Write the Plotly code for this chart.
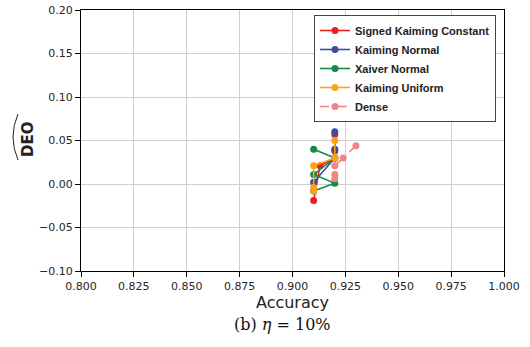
import plotly.graph_objects as go

# Data (accuracy, DEO) per initialization
skc_acc = [0.920, 0.920, 0.920, 0.913, 0.910]
skc_deo = [0.057, 0.038, 0.030, 0.021, -0.019]

kn_acc = [0.920, 0.920, 0.920, 0.910]
kn_deo = [0.060, 0.040, 0.030, 0.002]

xn_acc = [0.910, 0.920, 0.910, 0.920, 0.910]
xn_deo = [0.040, 0.030, 0.011, 0.001, -0.008]

ku_acc = [0.920, 0.920, 0.910, 0.910, 0.910]
ku_deo = [0.050, 0.030, 0.021, -0.004, -0.008]

dense_acc = [0.930, 0.924, 0.920, 0.920, 0.920]
dense_deo = [0.044, 0.030, 0.021, 0.011, 0.006]

series = [
    ("Signed Kaiming Constant", skc_acc, skc_deo, "#ee1d23", "solid"),
    ("Kaiming Normal", kn_acc, kn_deo, "#3b4d9e", "solid"),
    ("Xaiver Normal", xn_acc, xn_deo, "#178a45", "solid"),
    ("Kaiming Uniform", ku_acc, ku_deo, "#f9a41a", "solid"),
    ("Dense", dense_acc, dense_deo, "#f08585", "dash"),
]

x_ticks = [0.800, 0.825, 0.850, 0.875, 0.900, 0.925, 0.950, 0.975, 1.000]
y_ticks = [-0.10, -0.05, 0.00, 0.05, 0.10, 0.15, 0.20]

fig = go.Figure()
for name, xs, ys, color, dash in series:
    fig.add_trace(go.Scatter(
        x=xs, y=ys, name=name, mode="lines+markers",
        line=dict(color=color, width=1.6, dash=dash),
        marker=dict(color=color, size=7),
    ))

L, R, T, B = 81, 26, 10, 76
W, H = 530, 347
PW, PH = W - L - R, H - T - B


def px(x):
    return (x - L) / PW


def py(y):
    return (H - B - y) / PH


fig.update_layout(
    width=W, height=H,
    margin=dict(l=L, r=R, t=T, b=B),
    paper_bgcolor="white", plot_bgcolor="white",
    font=dict(family="DejaVu Sans", size=11, color="#262626"),
    showlegend=True,
    legend=dict(
        x=px(314), y=py(15), xanchor="left", yanchor="top",
        bgcolor="white", bordercolor="#444", borderwidth=1,
        font=dict(family="Liberation Sans", size=11, color="#222", weight="bold"),
        tracegroupgap=0, itemwidth=30,
    ),
    xaxis=dict(
        range=[0.8, 1.0], tickvals=x_ticks, tickformat=".3f",
        showgrid=True, gridcolor="#cfcfcf", gridwidth=1,
        showline=True, linecolor="black", linewidth=1.2, mirror=True,
        ticks="outside", ticklen=5, tickcolor="black",
        zeroline=False, automargin=False,
        title=dict(text="Accuracy", font=dict(family="DejaVu Sans", size=16, color="#222"), standoff=4),
    ),
    yaxis=dict(
        range=[-0.1, 0.2], tickvals=y_ticks, tickformat=".2f",
        showgrid=True, gridcolor="#cfcfcf", gridwidth=1,
        showline=True, linecolor="black", linewidth=1.2, mirror=True,
        ticks="outside", ticklen=5, tickcolor="black",
        zeroline=False, automargin=False,
    ),
)

# y-axis title placed exactly, rotated
fig.add_annotation(
    text="<b>DEO</b>", xref="paper", yref="paper",
    x=px(28), y=py(140), xanchor="center", yanchor="middle",
    textangle=-90, showarrow=False,
    font=dict(family="DejaVu Sans", size=15, color="#222"),
)

# wide hat over DEO (the title is rotated, so the hat sits to its left)
fig.add_shape(
    type="path", xref="paper", yref="paper",
    path="M {:.4f},{:.4f} Q {:.4f},{:.4f} {:.4f},{:.4f}".format(
        px(18), py(160), px(8), py(137), px(18), py(114)),
    line=dict(color="#222", width=1),
)

fig.add_annotation(
    text="(b) <i>η</i> = 10%", xref="paper", yref="paper",
    x=px(282), y=py(324),
    xanchor="center", yanchor="middle", showarrow=False,
    font=dict(family="DejaVu Serif", size=16, color="#111"),
)

fig.write_html("out.html")
